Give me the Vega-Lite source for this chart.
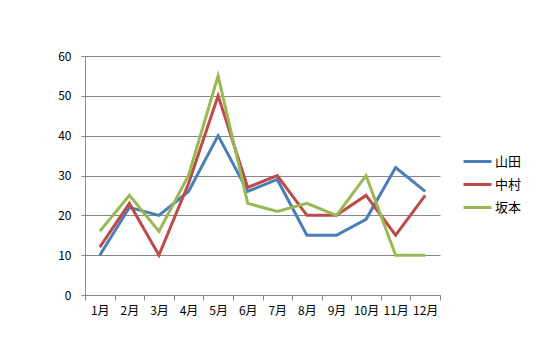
{
  "$schema": "https://vega.github.io/schema/vega-lite/v6.json",
  "width": 355,
  "height": 239,
  "autosize": {"type": "none"},
  "padding": {"left": 85, "top": 56, "right": 113, "bottom": 58},
  "background": "white",
  "config": {
    "view": {"stroke": null},
    "font": "Noto Sans CJK JP"
  },
  "data": {
    "values": [
      {"month": "1月", "name": "山田", "value": 10},
      {"month": "2月", "name": "山田", "value": 22},
      {"month": "3月", "name": "山田", "value": 20},
      {"month": "4月", "name": "山田", "value": 26},
      {"month": "5月", "name": "山田", "value": 40},
      {"month": "6月", "name": "山田", "value": 26},
      {"month": "7月", "name": "山田", "value": 29},
      {"month": "8月", "name": "山田", "value": 15},
      {"month": "9月", "name": "山田", "value": 15},
      {"month": "10月", "name": "山田", "value": 19},
      {"month": "11月", "name": "山田", "value": 32},
      {"month": "12月", "name": "山田", "value": 26},
      {"month": "1月", "name": "中村", "value": 12},
      {"month": "2月", "name": "中村", "value": 23},
      {"month": "3月", "name": "中村", "value": 10},
      {"month": "4月", "name": "中村", "value": 28},
      {"month": "5月", "name": "中村", "value": 50},
      {"month": "6月", "name": "中村", "value": 27},
      {"month": "7月", "name": "中村", "value": 30},
      {"month": "8月", "name": "中村", "value": 20},
      {"month": "9月", "name": "中村", "value": 20},
      {"month": "10月", "name": "中村", "value": 25},
      {"month": "11月", "name": "中村", "value": 15},
      {"month": "12月", "name": "中村", "value": 25},
      {"month": "1月", "name": "坂本", "value": 16},
      {"month": "2月", "name": "坂本", "value": 25},
      {"month": "3月", "name": "坂本", "value": 16},
      {"month": "4月", "name": "坂本", "value": 30},
      {"month": "5月", "name": "坂本", "value": 55},
      {"month": "6月", "name": "坂本", "value": 23},
      {"month": "7月", "name": "坂本", "value": 21},
      {"month": "8月", "name": "坂本", "value": 23},
      {"month": "9月", "name": "坂本", "value": 20},
      {"month": "10月", "name": "坂本", "value": 30},
      {"month": "11月", "name": "坂本", "value": 10},
      {"month": "12月", "name": "坂本", "value": 10}
    ]
  },
  "mark": {"type": "line", "strokeWidth": 3, "strokeJoin": "miter"},
  "encoding": {
    "x": {
      "field": "month",
      "type": "ordinal",
      "sort": null,
      "scale": {"paddingInner": 0, "paddingOuter": 0},
      "axis": {
        "title": null,
        "labelAngle": 0,
        "labelFontSize": 12,
        "labelColor": "black",
        "domainColor": "#868686",
        "tickColor": "#868686",
        "tickBand": "extent",
        "tickSize": 5,
        "labelPadding": 5,
        "grid": false
      }
    },
    "y": {
      "field": "value",
      "type": "quantitative",
      "scale": {"domain": [0, 60], "nice": false},
      "axis": {
        "title": null,
        "values": [0, 10, 20, 30, 40, 50, 60],
        "labelFontSize": 12,
        "labelColor": "black",
        "domainColor": "#868686",
        "tickColor": "#868686",
        "tickSize": 4,
        "labelPadding": 10,
        "gridColor": "#868686",
        "gridOpacity": 1
      }
    },
    "color": {
      "field": "name",
      "type": "nominal",
      "scale": {"domain": ["山田", "中村", "坂本"], "range": ["#4A7EBB", "#BE4B48", "#98B954"]},
      "legend": {
        "title": null,
        "orient": "none",
        "legendX": 377,
        "legendY": 90,
        "symbolType": "stroke",
        "symbolSize": 784,
        "symbolStrokeWidth": 3,
        "labelFontSize": 13,
        "labelColor": "black",
        "labelOffset": 2,
        "rowPadding": -3
      }
    }
  }
}
